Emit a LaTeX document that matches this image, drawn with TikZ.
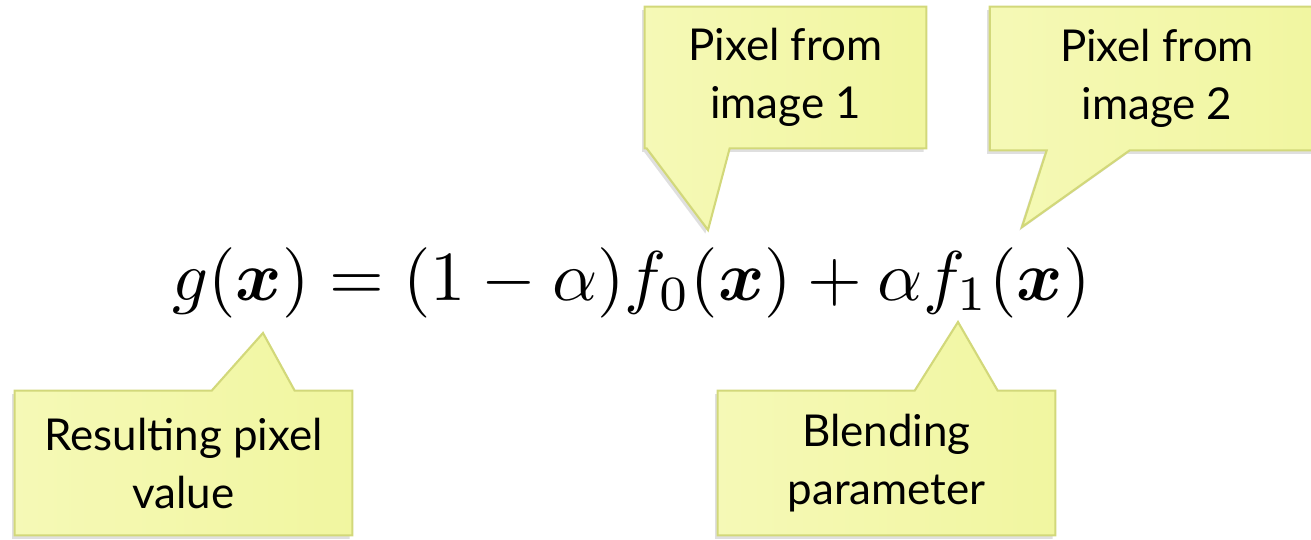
\documentclass[tikz,border=0pt]{standalone}
\usepackage{amsmath}
\usepackage{amssymb}
\usepackage{fontspec}
\setmainfont{Lato}
\usepackage{tikz}
\usetikzlibrary{shapes, arrows, positioning, calc, shadows, backgrounds}
\definecolor{noteyellow}{RGB}{241,246,160}
\definecolor{notelight}{RGB}{245,249,182}
\definecolor{noteedge}{RGB}{210,216,122}
\tikzstyle{note} = [rectangle, inner sep=0pt, align=center,
    font=\fontsize{25}{33}\selectfont]
\tikzstyle{notebox} = [draw=noteedge, line width=1.2pt, left color=notelight, right color=noteyellow,
    drop shadow={shadow xshift=-1.5pt, shadow yshift=-2pt, opacity=0.25}]

\begin{document}
\begin{tikzpicture}[x=0.02cm, y=-0.02cm]
        \clip (0,0) rectangle (1311,539);
        \node[anchor=base west, inner sep=0pt, name=eq] at (172,300) (eq)
            {\resizebox{18.36cm}{!}{$g(\boldsymbol{x}) = (1-\alpha)f_0(\boldsymbol{x}) + \alpha f_1(\boldsymbol{x})$}};

        \node[note, name=pixa, minimum width=5.62cm, minimum height=2.82cm] at (785.5,77.5) (pixa) {Pixel from\\image 1};
        \node[note, name=pixb, minimum width=6.68cm, minimum height=2.86cm] at (1157,78.5) (pixb) {Pixel from\\image 2};
        \node[note, name=result, minimum width=6.74cm, minimum height=2.88cm] at (183.5,463) (result) {Resulting pixel\\value};
        \node[note, name=blend, minimum width=6.74cm, minimum height=2.88cm] at (886.5,463) (blend) {Blending\\parameter};

        \coordinate (tipa) at (708,230);
        \coordinate (tipb) at (1022,227);
        \coordinate (tipr) at (263,333);
        \coordinate (tipc) at (958,322);

        \begin{scope}[on background layer]
        \path[notebox] (pixa.north west) -- (pixa.north east) -- (pixa.south east)
            -- ($(pixa.south west)+(85,0)$) -- (tipa) -- ($(pixa.south west)+(2,0)$) -- (pixa.south west) -- cycle;
        \path[notebox] (pixb.north west) -- (pixb.north east) -- (pixb.south east)
            -- ($(pixb.south west)+(140,0)$) -- (tipb) -- ($(pixb.south west)+(57,0)$) -- (pixb.south west) -- cycle;
        \path[notebox] (result.south west) -- (result.north west) -- ($(result.north west)+(197,0)$)
            -- (tipr) -- ($(result.north west)+(280,0)$) -- (result.north east) -- (result.south east) -- cycle;
        \path[notebox] (blend.south west) -- (blend.north west) -- ($(blend.north west)+(197,0)$)
            -- (tipc) -- ($(blend.north west)+(280,0)$) -- (blend.north east) -- (blend.south east) -- cycle;
        \end{scope}
\end{tikzpicture}
\end{document}
